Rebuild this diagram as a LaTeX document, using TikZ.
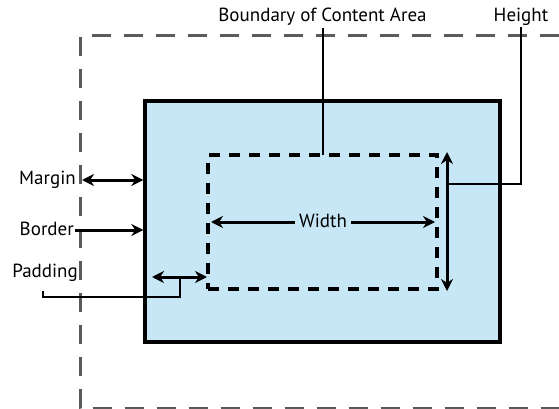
\documentclass[tikz,border=0pt]{standalone}
\usepackage{fontspec}
\setmainfont{PT Sans}
\usetikzlibrary{arrows.meta}
\definecolor{boxblue}{HTML}{C7E7F6}
\definecolor{margray}{HTML}{5A5A5A}
\tikzset{
  dim/.style={line width=3pt, {Stealth[length=12pt,width=12pt]}-{Stealth[length=12pt,width=12pt]}},
  onedim/.style={line width=3pt, -{Stealth[length=12pt,width=12pt]}},
  leader/.style={line width=1.4pt},
  lbl/.style={font=\fontsize{19}{21}\selectfont, inner sep=1pt}
}
\begin{document}
\begin{tikzpicture}[x=1pt,y=-1pt]
\useasboundingbox (0,0) rectangle (559,409);

% margin edge
\path[draw,margray,line width=3pt,dash pattern=on 19pt off 13pt] (559,36) -- (80,36) -- (80,408) -- (559,408);

% border box and content area
\node[draw, line width=3.4pt, fill=boxblue, minimum width=355pt, minimum height=241pt, inner sep=0pt] (box) at (322.5,221.5) {};
\node[draw, dash pattern=on 11pt off 9pt, line width=3.2pt, minimum width=229pt, minimum height=134pt, inner sep=0pt] (cont) at (322.5,222) {};

% labels
\node[lbl, anchor=east] (margin) at (77,180) {Margin};
\node[lbl, anchor=east] (border) at (75,229) {Border};
\node[lbl, anchor=east] (padding) at (79,273) {Padding};
\node[lbl] (bound) at (322.5,17) {Boundary of Content Area};
\node[lbl] (height) at (521,17) {Height};
\node[lbl, fill=boxblue, inner sep=4pt] (width) at (323,221) {Width};

% dimension arrows
\coordinate (m0) at (82,180);
\coordinate (p0) at (152,277);
\coordinate (p1) at (207,277);
\coordinate (w0) at (211,222);
\coordinate (w1) at (435,222);
\coordinate (h0) at (447,152);
\coordinate (h1) at (447,291);
\path[draw,dim] (m0) -- (box.west |- m0);
\path[draw,onedim] (border.east |- 0,230) -- (box.west |- 0,230);
\path[draw,dim] (p0) -- (p1);
\path[draw,onedim] (width.west |- w0) -- (w0);
\path[draw,onedim] (width.east |- w1) -- (w1);
\path[draw,dim] (h0) -- (h1);

% leaders
\coordinate (pl) at (180,277);
\coordinate (hl) at (447,184);
\path[draw,leader] (43,291) -- (43,297) -| (pl);
\path[draw,leader] (323,28) -- (323,155);
\path[draw,leader] (hl) -| (height.south);
\end{tikzpicture}
\end{document}
